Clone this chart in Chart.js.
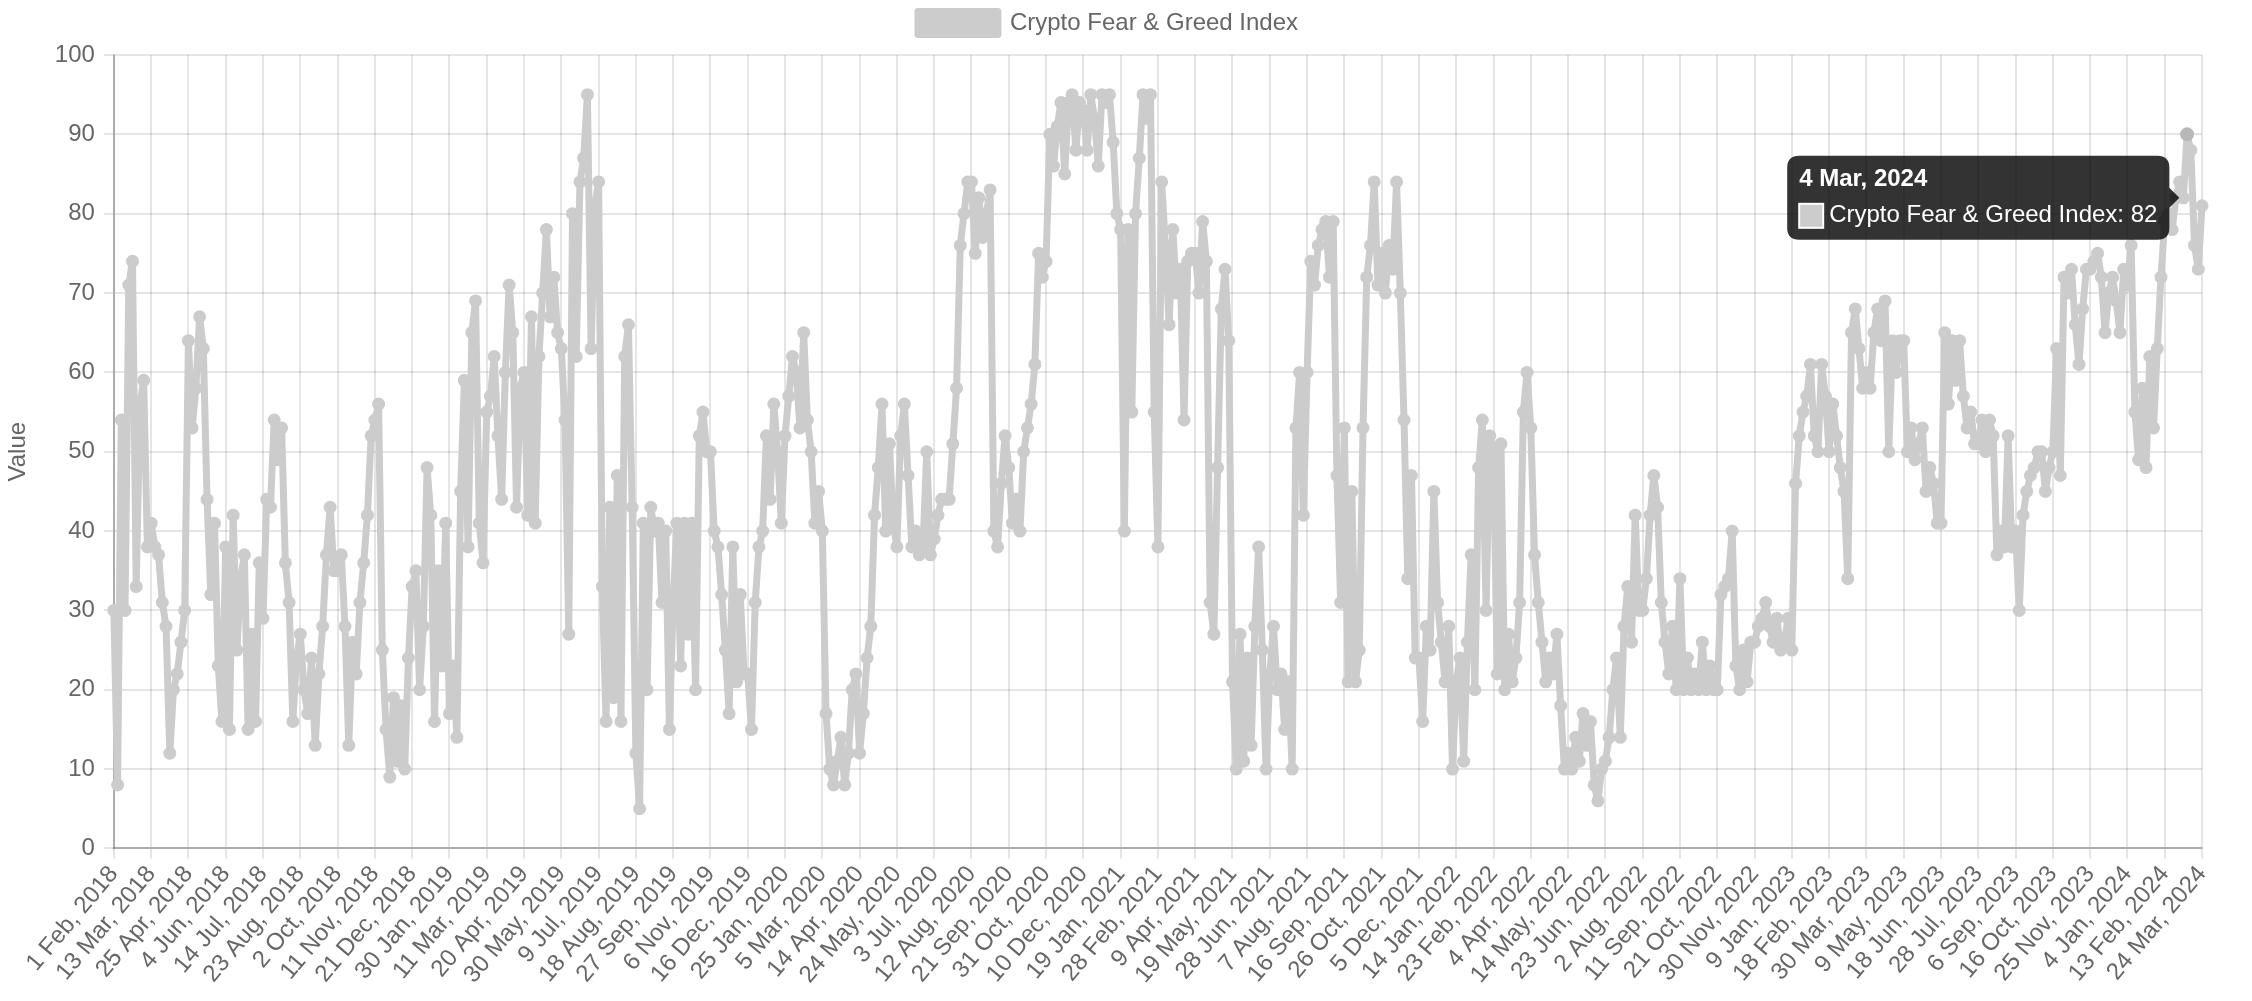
<!DOCTYPE html>
<html>
<head>
<meta charset="utf-8">
<title>Crypto Fear &amp; Greed Index</title>
<script src="https://cdn.jsdelivr.net/npm/chart.js@4.4.1/dist/chart.umd.min.js"></script>
<style>
  html, body { margin: 0; padding: 0; background: #fff; }
  #wrap { width: 2252px; height: 1001px; }
</style>
</head>
<body>
<div id="wrap"><canvas id="fgChart" width="2252" height="1001"></canvas></div>
<script>
/* ---------- Data: one reading every 4 days ---------- */
const seriesName = "Crypto Fear & Greed Index";

const fg2018 = [
  30, 8, 54, 30, 71, 74, 33, 56, 59, 38,
  41, 38, 37, 31, 28, 12, 20, 22, 26, 30,
  64, 53, 58, 67, 63, 44, 32, 41, 23, 16,
  38, 15, 42, 25, 34, 37, 15, 27, 16, 36,
  29, 44, 43, 54, 49, 53, 36, 31, 16, 24,
  27, 20, 17, 24, 13, 22, 28, 37, 43, 35,
  35, 37, 28, 13, 26, 22, 31, 36, 42, 52,
  54, 56, 25, 15, 9, 19, 11, 18, 10, 24,
  33, 35, 20,
];
const fg2019 = [
  28, 48, 42, 16, 35, 23, 41,
  17, 23, 14, 45, 59, 38, 65, 69, 41, 36,
  55, 57, 62, 52, 44, 60, 71, 65, 43, 58,
  60, 42, 67, 41, 62, 70, 78, 67, 72, 65,
  63, 54, 27, 80, 62, 84, 87, 95, 63, 81,
  84, 33, 16, 43, 19, 47, 16, 62, 66, 43,
  12, 5, 41, 20, 43, 40, 41, 31, 40, 15,
  31, 41, 23, 41, 27, 41, 20, 52, 55, 50,
  50, 40, 38, 32, 25, 17, 38, 21, 32, 22,
  22, 15, 31, 38,
];
const fg2020 = [
  40, 52, 44, 56, 50, 41,
  52, 57, 62, 60, 53, 65, 54, 50, 41, 45,
  40, 17, 10, 8, 11, 14, 8, 12, 20, 22,
  12, 17, 24, 28, 42, 48, 56, 40, 51, 41,
  38, 52, 56, 47, 38, 40, 37, 38, 50, 37,
  39, 42, 44, 44, 44, 51, 58, 76, 80, 84,
  84, 75, 82, 77, 80, 83, 40, 38, 46, 52,
  48, 41, 44, 40, 50, 53, 56, 61, 75, 72,
  74, 90, 86, 91, 94, 85, 94, 95, 88, 94,
  93, 88, 95, 92, 86, 95,
];
const fg2021 = [
  94, 95, 89, 80,
  78, 40, 78, 55, 80, 87, 95, 92, 95, 55,
  38, 84, 76, 66, 78, 70, 73, 54, 74, 75,
  75, 70, 79, 74, 31, 27, 48, 68, 73, 64,
  21, 10, 27, 11, 24, 13, 28, 38, 25, 10,
  22, 28, 20, 22, 15, 21, 10, 53, 60, 42,
  60, 74, 71, 76, 78, 79, 72, 79, 47, 31,
  53, 21, 45, 21, 25, 53, 72, 76, 84, 71,
  75, 70, 76, 73, 84, 70, 54, 34, 47, 24,
  24, 16, 28, 25, 45, 31, 26,
];
const fg2022 = [
  21, 28, 10,
  21, 24, 11, 26, 37, 20, 48, 54, 30, 52,
  50, 22, 51, 20, 27, 21, 24, 31, 55, 60,
  53, 37, 31, 26, 21, 24, 22, 27, 18, 10,
  12, 10, 14, 11, 17, 13, 16, 8, 6, 10,
  11, 14, 20, 24, 14, 28, 33, 26, 42, 30,
  30, 34, 42, 47, 43, 31, 26, 22, 28, 20,
  34, 20, 24, 20, 22, 20, 26, 20, 23, 20,
  20, 32, 33, 34, 40, 23, 20, 25, 21, 26,
  26, 28, 29, 31, 28, 26, 29, 25,
];
const fg2023 = [
  26, 29,
  25, 46, 52, 55, 57, 61, 52, 50, 61, 57,
  50, 56, 52, 48, 45, 34, 65, 68, 63, 58,
  60, 58, 65, 68, 64, 69, 50, 64, 60, 64,
  64, 50, 53, 49, 51, 53, 45, 48, 46, 41,
  41, 65, 56, 64, 59, 64, 57, 53, 55, 51,
  51, 54, 50, 54, 52, 37, 40, 38, 52, 38,
  40, 30, 42, 45, 47, 48, 50, 50, 45, 48,
  50, 63, 47, 72, 70, 73, 66, 61, 68, 73,
  73, 74, 75, 72, 65, 70, 72, 69, 65, 73,
];
const fg2024 = [
  71, 76, 55, 49, 58, 48, 62, 53, 63, 72,
  79, 80, 78, 82, 84, 82, 90, 88, 76, 73,
  81,
];

const values = [...fg2018, ...fg2019, ...fg2020, ...fg2021, ...fg2022, ...fg2023, ...fg2024];

/* ---------- Category labels (dates of the readings) ---------- */
const startDate = Date.UTC(2018, 1, 1);   // 1 Feb 2018
const stepDays = 4;                        // one reading every 4 days
const gapAfterIndex = 72;                  // 14-16 Apr 2018 have no reading
const gapDays = 3;
const tickEvery = 10;                      // a tick label every 40 days
const monthNames = ["Jan", "Feb", "Mar", "Apr", "May", "Jun", "Jul", "Aug", "Sep", "Oct", "Nov", "Dec"];
const yTicks = { min: 0, max: 100, step: 10 };

const tooltipDate = "4 Mar, 2024";
const hoverDate = "8 Mar, 2024";

const labels = values.map((_, s) => {
  const i = s * stepDays;
  const offset = i + (i >= gapAfterIndex ? gapDays : 0);
  const d = new Date(startDate + offset * 86400000);
  return `${d.getUTCDate()} ${monthNames[d.getUTCMonth()]}, ${d.getUTCFullYear()}`;
});

/* ---------- Chart ---------- */
Chart.defaults.font.family = "'Liberation Sans', Arial, Helvetica, sans-serif";
Chart.defaults.font.size = 24;
Chart.defaults.color = "#666";

const gridColor = "rgba(0,0,0,0.1)";
const axisColor = "rgba(0,0,0,0.25)";
const lineColor = "#cccccc";

// extra room under the legend
const legendMargin = {
  id: "legendMargin",
  beforeInit(chart) {
    const fit = chart.legend.fit;
    chart.legend.fit = function () {
      fit.call(this);
      this.height += 10;
    };
  },
};

const chart = new Chart(document.getElementById("fgChart"), {
  type: "line",
  data: {
    labels,
    datasets: [
      {
        label: seriesName,
        data: values,
        borderColor: lineColor,
        backgroundColor: lineColor,
        borderWidth: 7,
        borderJoinStyle: "round",
        borderCapStyle: "round",
        pointRadius: 5.5,
        pointBorderWidth: 2,
        pointHoverRadius: 6,
        pointHoverBorderWidth: 2,
        tension: 0,
        fill: false,
      },
    ],
  },
  plugins: [legendMargin],
  options: {
    responsive: false,
    devicePixelRatio: 1,
    animation: false,
    events: [],
    layout: { padding: { left: 14, right: 50, top: 3, bottom: 10 } },
    plugins: {
      legend: {
        labels: { boxWidth: 80, boxHeight: 23, padding: 8, font: { size: 24 }, color: "#666" },
      },
      tooltip: {
        backgroundColor: "rgba(0,0,0,0.8)",
        titleFont: { size: 24, weight: "bold", lineHeight: 1 },
        bodyFont: { size: 24, lineHeight: 1 },
        titleMarginBottom: 12,
        padding: 12,
        cornerRadius: 12,
        caretSize: 10,
        caretPadding: 4,
        boxWidth: 24,
        boxHeight: 24,
        boxPadding: 4,
        callbacks: {
          labelColor: () => ({ borderColor: "#fff", backgroundColor: lineColor, borderWidth: 2 }),
        },
      },
    },
    scales: {
      x: {
        grid: { color: gridColor, lineWidth: 2, tickLength: 10 },
        border: { color: axisColor, width: 2 },
        ticks: { autoSkip: false, minRotation: 50, maxRotation: 50, padding: 2, font: { size: 24 } },
        afterBuildTicks: (axis) => {
          axis.ticks = axis.ticks.filter((t) => t.value % tickEvery === 0);
        },
      },
      y: {
        min: yTicks.min,
        max: yTicks.max,
        grid: { color: gridColor, lineWidth: 2, tickLength: 10 },
        border: { color: axisColor, width: 2 },
        ticks: { stepSize: yTicks.step, padding: 9, font: { size: 24 } },
        title: {
          display: true,
          text: "Value",
          font: { size: 24 },
          color: "#666",
          padding: { top: -10, bottom: 13 },
        },
      },
    },
  },
});

/* ---------- Static hover state as in the picture ---------- */
const tipIndex = labels.indexOf(tooltipDate);
const hoverIndex = labels.indexOf(hoverDate);
const tipPoint = chart.getDatasetMeta(0).data[tipIndex];
chart.setActiveElements([{ datasetIndex: 0, index: hoverIndex }]);
chart.tooltip.setActiveElements([{ datasetIndex: 0, index: tipIndex }], { x: tipPoint.x, y: tipPoint.y });
chart.update();
</script>
</body>
</html>
